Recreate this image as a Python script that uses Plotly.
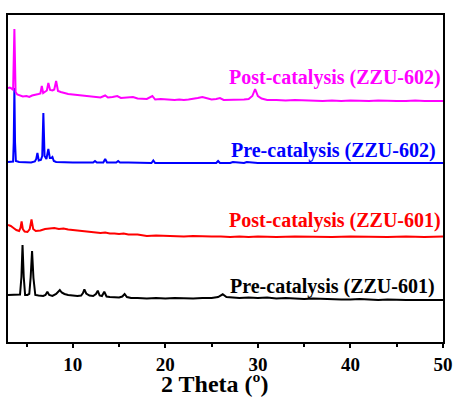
import plotly.graph_objects as go

# ---- data (2 Theta in degrees, intensity in arbitrary offset units) ----
theta_post602 = [3.0, 3.2, 3.4, 3.55, 3.69, 3.82, 4.0, 4.3, 4.6, 5.0, 5.3, 5.6, 6.0, 6.3, 6.5, 6.65, 6.8, 7.0,
                 7.2, 7.36, 7.55, 7.8, 8.0, 8.2, 8.4, 8.7, 9.0, 9.5, 10.0, 10.5, 11.0, 11.5, 12.0, 12.5, 13.0,
                 13.5, 13.8, 14.3, 14.8, 15.2, 15.8, 16.5, 17.0, 17.5, 18.0, 18.6, 18.9, 19.5, 20.0, 20.5, 21.0,
                 21.5, 22.0, 22.5, 23.0, 23.5, 24.0, 24.5, 25.0, 25.5, 25.9, 26.3, 27.0, 27.5, 28.0, 28.5, 29.0,
                 29.4, 29.7, 30.0, 30.4, 31.0, 32.0, 33.0, 34.0, 35.0, 36.0, 37.0, 38.0, 39.0, 40.0, 41.0, 42.0,
                 43.0, 44.0, 45.0, 46.0, 47.0, 48.0, 49.0, 50.0]
int_post602 = [254, 254.5, 253.5, 252, 313, 250, 247.5, 246.5, 245.5, 246, 245, 246.5, 247, 248, 248.5, 256, 249,
               250.5, 251.5, 259, 252, 251.5, 252.5, 261, 251, 250, 249, 248, 247.5, 247, 246, 245.5, 245, 244.5,
               244.5, 246.5, 244.5, 245, 246, 244, 244.5, 245, 243.5, 243.5, 243, 246, 242.5, 243, 242.5, 242.5,
               242, 242.5, 242, 242.5, 243, 244, 245, 244, 242.5, 243, 244, 242, 242, 242.5, 242, 242.5, 243,
               246, 253, 246, 243.5, 242, 242, 241.5, 242, 241.5, 241.5, 241, 241.5, 241, 241.5, 241, 241,
               241.5, 241, 241, 241, 241.5, 241, 241, 241]

theta_pre602 = [3.0, 3.3, 3.55, 3.62, 3.69, 3.76, 3.85, 4.2, 4.8, 5.5, 5.9, 6.05, 6.18, 6.32, 6.55, 6.7, 6.82,
                6.95, 7.15, 7.36, 7.52, 7.68, 7.8, 7.95, 8.2, 9.0, 10.0, 11.0, 12.2, 12.4, 12.6, 13.3, 13.5,
                13.7, 14.7, 14.9, 15.1, 16.0, 17.0, 18.5, 18.7, 18.9, 20.0, 22.0, 24.0, 25.5, 25.7, 25.9, 27.0,
                27.3, 28.5, 28.8, 30.0, 32.0, 34.0, 36.0, 38.0, 40.0, 42.0, 44.0, 46.0, 48.0, 50.0]
int_pre602 = [180, 180, 180.5, 200, 254, 200, 181, 180, 180, 179.5, 180.5, 183, 189, 181.5, 182, 186, 229,
              186, 183, 193, 184, 184, 185, 181, 180, 179.5, 179.5, 179.5, 179.5, 181, 179.5, 179.5, 183,
              179.5, 179.5, 181, 179.5, 179.5, 179.5, 179, 181.5, 179, 179, 179, 179, 179, 181, 179, 179,
              180, 179, 180, 179, 179, 179, 179, 179, 179, 179, 179, 179, 179, 179]

theta_post601 = [3.0, 3.3, 3.6, 3.9, 4.2, 4.35, 4.47, 4.6, 4.8, 5.1, 5.35, 5.54, 5.72, 6.0, 6.5, 7.0, 7.5, 8.0,
                 8.5, 9.0, 9.5, 10.0, 10.5, 11.0, 11.5, 12.0, 12.5, 13.0, 13.5, 14.0, 14.5, 15.0, 15.5, 16.0,
                 17.0, 18.0, 19.0, 20.0, 21.0, 22.0, 23.0, 24.0, 25.0, 26.0, 27.0, 28.0, 29.0, 30.0, 32.0,
                 34.0, 36.0, 38.0, 40.0, 42.0, 44.0, 46.0, 48.0, 50.0]
int_post601 = [117, 116, 114, 112, 111, 114, 120.5, 113, 110.5, 110, 113, 122.5, 113, 111, 111.5, 113, 113.5,
               114, 113, 113.5, 112.5, 112, 111, 110.5, 110, 109.5, 109.5, 109, 109.5, 108.5, 108.5, 108,
               108.5, 107.5, 107.5, 106, 106.5, 106, 106, 105.5, 106, 105.5, 105.5, 105.5, 105, 105.5, 105,
               105.5, 105, 105.5, 105, 105, 105.5, 105, 105, 105.5, 105, 105.5]

theta_pre601 = [3.0, 3.5, 4.0, 4.3, 4.45, 4.57, 4.7, 4.85, 5.1, 5.3, 5.45, 5.6, 5.75, 5.95, 6.3, 6.8, 7.05,
                7.25, 7.45, 7.8, 8.2, 8.45, 8.6, 8.8, 9.1, 9.5, 10.0, 10.5, 10.9, 11.1, 11.25, 11.45, 11.8,
                12.2, 12.5, 12.7, 12.9, 13.15, 13.4, 13.65, 14.0, 14.5, 15.0, 15.35, 15.6, 15.85, 16.3, 17.0,
                18.0, 19.0, 20.0, 21.0, 22.0, 23.0, 24.0, 25.0, 25.7, 26.2, 26.6, 27.0, 28.0, 29.0, 30.0,
                31.0, 32.0, 33.0, 34.0, 35.0, 36.0, 37.0, 38.0, 39.0, 40.0, 41.0, 42.0, 43.0, 44.0, 45.0,
                46.0, 47.0, 48.0, 49.0, 50.0]
int_pre601 = [47, 47, 47, 47.5, 65, 97, 65, 47, 47, 48, 65, 91, 64, 47, 46.5, 46, 47, 50.3, 47, 46, 48, 50,
              52, 49.5, 48, 47, 46.5, 46, 46.5, 49, 52.7, 48.5, 46.5, 46, 48, 51.3, 46.5, 46, 50.3, 45.5, 45,
              44.5, 44.5, 45.5, 48, 45, 44, 44, 43.5, 44, 43.5, 44, 43.5, 43.5, 44, 44, 45, 47.7, 45, 44.5,
              44, 44.5, 44, 44.5, 43.5, 44, 43.5, 43, 43.5, 43, 43, 42.5, 42.5, 43, 42.5, 42, 42.5, 42, 42,
              42, 42, 42, 42]

labels = ["Post-catalysis (ZZU-602)", "Pre-catalysis (ZZU-602)",
          "Post-catalysis (ZZU-601)", "Pre-catalysis (ZZU-601)"]
label_x = [49.95, 49.45, 49.95, 49.4]
label_y = [265, 192, 121.5, 56]
colors = ["#ff00ff", "#0000ff", "#ff0000", "#000000"]
x_ticks = [10, 20, 30, 40, 50]
x_title = "2 Theta (º)"

SERIF = "Liberation Serif"

series = [(theta_pre601, int_pre601), (theta_post601, int_post601),
          (theta_pre602, int_pre602), (theta_post602, int_post602)]
series_colors = [colors[3], colors[2], colors[1], colors[0]]

fig = go.Figure()
for (tx, iy), c in zip(series, series_colors):
    fig.add_trace(go.Scatter(x=tx, y=iy, mode="lines",
                             line=dict(color=c, width=2), showlegend=False))

for lab, lx, ly, c in zip(labels, label_x, label_y, colors):
    fig.add_annotation(x=lx, y=ly, xref="x", yref="y", text=lab,
                       showarrow=False, xanchor="right", yanchor="middle",
                       font=dict(family=SERIF, size=20, color=c, weight="bold"))

# x-axis title as an annotation for precise placement
fig.add_annotation(x=0.475, y=-0.128, xref="paper", yref="paper", text=x_title,
                   showarrow=False, xanchor="center", yanchor="middle",
                   font=dict(family=SERIF, size=24, color="black", weight="bold"))

fig.update_layout(
    width=461, height=398,
    margin=dict(l=8, r=13, t=15, b=56),
    paper_bgcolor="white", plot_bgcolor="white",
    font=dict(family=SERIF, color="black"),
)
fig.update_xaxes(
    range=[3, 50], tickvals=x_ticks, ticktext=[str(v) for v in x_ticks],
    ticks="outside", ticklen=4, tickwidth=1.5, tickcolor="black",
    minor=dict(tickvals=[5, 15, 25, 35, 45], ticks="outside", ticklen=3, tickcolor="black", tickwidth=1.5),
    showline=True, linecolor="black", linewidth=2, mirror=True,
    showgrid=False, zeroline=False,
    tickfont=dict(family=SERIF, size=19, color="black", weight="bold"),
)
fig.update_yaxes(
    range=[0, 327], showticklabels=False, ticks="",
    showline=True, linecolor="black", linewidth=2, mirror=True,
    showgrid=False, zeroline=False,
)

fig.write_html("out.html")
